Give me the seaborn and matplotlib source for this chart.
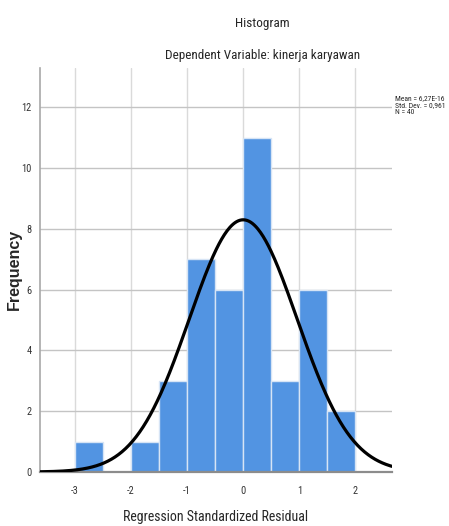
import matplotlib
matplotlib.use('Agg')
import matplotlib.pyplot as plt
from matplotlib import font_manager
import seaborn as sns
import numpy as np
import pandas as pd

# residual histogram (SPSS output), bin width 0.5
bin_left = [-3.0, -2.5, -2.0, -1.5, -1.0, -0.5, 0.0, 0.5, 1.0, 1.5]
counts = [1, 0, 1, 3, 7, 6, 11, 3, 6, 2]
mean_val = 6.27e-16
std_val = 0.961
n_total = 40
bin_w = 0.5

x_ticks = [-3, -2, -1, 0, 1, 2]
y_ticks = [0, 2, 4, 6, 8, 10, 12]

# SPSS uses a narrow sans; take a condensed face if one is installed
have = {f.name for f in font_manager.fontManager.ttflist}
narrow = None
for nm in ['Liberation Sans Narrow', 'DejaVu Sans Condensed', 'Roboto Condensed', 'Open Sans Condensed']:
    if nm in have:
        narrow = nm
        break
k = 1.0 if narrow else 0.8
base = narrow if narrow else 'Liberation Sans'

sns.set_style('white')
plt.rcParams['font.family'] = [base, 'Liberation Sans', 'DejaVu Sans']

df = pd.DataFrame({'mid': np.array(bin_left) + bin_w / 2, 'n': counts})
edges = list(bin_left) + [bin_left[-1] + bin_w]

fig = plt.figure(figsize=(4.49, 5.26), dpi=100)
ax = fig.add_axes([0.089, 0.1027, 0.784, 0.768])

sns.histplot(data=df, x='mid', weights='n', bins=edges, ax=ax,
             color='#5294e2', alpha=1, edgecolor='#d6e4f5', linewidth=1, zorder=2)

xs = np.linspace(-3.62, 2.65, 400)
pdf = n_total * bin_w * np.exp(-0.5 * ((xs - mean_val) / std_val) ** 2) / (std_val * np.sqrt(2 * np.pi))
sns.lineplot(x=xs, y=pdf, ax=ax, color='black', linewidth=2.3, zorder=3)

ax.set_xlim(-3.62, 2.65)
ax.set_ylim(0, 13.3)
ax.set_xticks(x_ticks)
ax.set_yticks(y_ticks)
ax.set_xticklabels([str(t) for t in x_ticks])
ax.set_yticklabels([str(t) for t in y_ticks])
ax.tick_params(axis='both', length=0, labelsize=7.5 * k, colors='#333333', pad=6)
ax.tick_params(axis='x', pad=10)
ax.grid(True, axis='x', color='#dadada', linewidth=1, zorder=0)
ax.grid(True, axis='y', color='#c4c4c4', linewidth=1, zorder=0)
ax.set_axisbelow(True)
for s in ['top', 'right']:
    ax.spines[s].set_visible(False)
ax.spines['left'].set_color('#a8a8a8')
ax.spines['left'].set_linewidth(1.2)
ax.spines['bottom'].set_color('#8c8c8c')
ax.spines['bottom'].set_linewidth(1.6)
ax.set_xlabel('')
ax.set_ylabel('')

fig.text(0.584, 0.956, 'Histogram', ha='center', va='center', fontsize=9.5 * k)
fig.text(0.584, 0.895, 'Dependent Variable: kinerja karyawan', ha='center', va='center', fontsize=9.5 * k)
fig.text(0.48, 0.018, 'Regression Standardized Residual', ha='center', va='center', fontsize=10 * k)
fig.text(0.033, 0.487, 'Frequency', rotation=90, ha='center', va='center', fontsize=11.5,
         fontweight='bold', family=['Liberation Sans', 'DejaVu Sans'])
fig.text(0.880, 0.800, 'Mean = 6,27E-16\nStd. Dev. = 0,961\nN = 40',
         ha='left', va='center', fontsize=5.5 * k, linespacing=1.15)

fig.savefig('out.png', dpi=100)
